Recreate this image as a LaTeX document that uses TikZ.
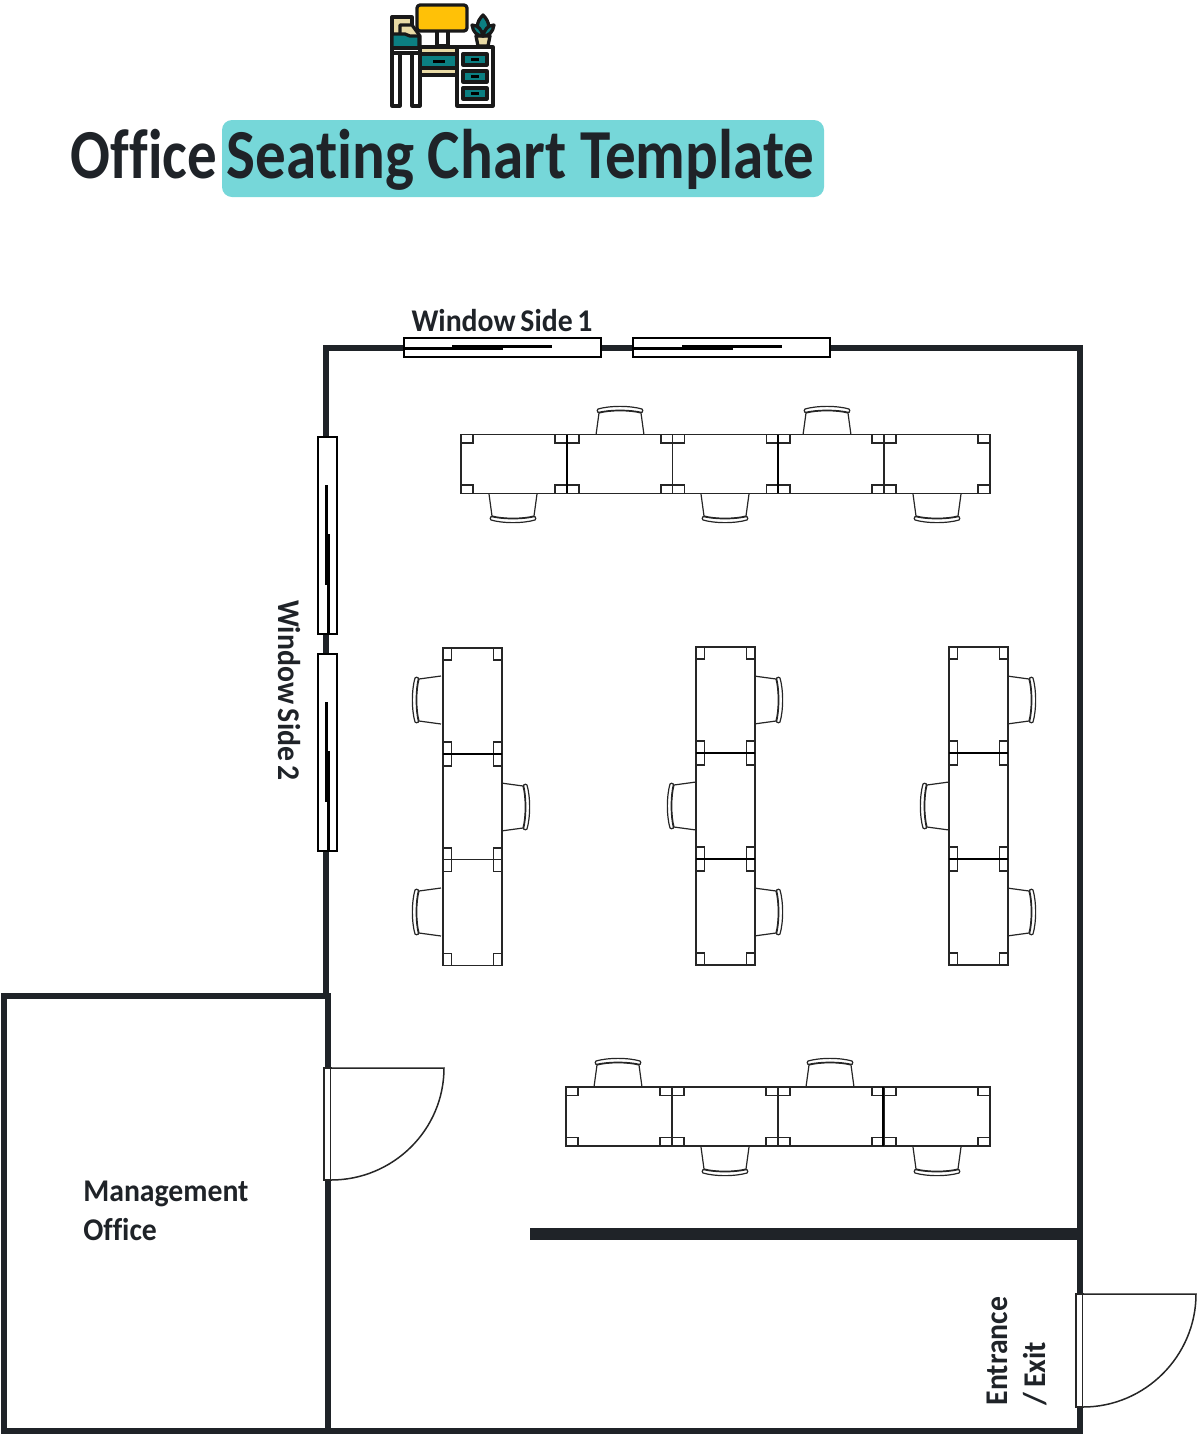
\documentclass[tikz,border=0pt]{standalone}
\usepackage{fontspec}
\setmainfont{Carlito}
\newfontface\titlefont[FakeStretch=0.87,Ligatures=NoCommon]{Carlito Bold}
\newfontface\officefont[FakeStretch=0.84,Ligatures=NoCommon]{Carlito Bold}
\newfontface\roomfont[FakeStretch=0.94,Ligatures=NoCommon,WordSpace=0.7]{Carlito Bold}
\definecolor{wall}{HTML}{1F2328}
\definecolor{band}{HTML}{76D7D9}
\definecolor{screen}{HTML}{FFC107}
\definecolor{deskteal}{HTML}{0B7F82}
\definecolor{cream}{HTML}{E9DBA6}
\tikzset{
  thin line/.style={line width=0.024cm, draw=black!85},
  desk/.pic={
    \draw[thin line, fill=white] (-53,-29.5) rectangle (53,29.5);
    \draw[thin line] (-53,-29.5) rectangle (-41,-21);
    \draw[thin line] (53,-29.5) rectangle (41,-21);
    \draw[thin line] (-53,29.5) rectangle (-41,21);
    \draw[thin line] (53,29.5) rectangle (41,21);
  },
  chair/.pic={
    \draw[thin line] (-24,0) -- (-21,-22) .. controls (-10,-25) and (10,-25) .. (21,-22) -- (24,0);
    \draw[thin line, line join=round] (-22,-22.5) .. controls (-23,-24) and (-23,-25) .. (-22,-26) .. controls (-10,-29.5) and (10,-29.5) .. (22,-26) .. controls (23,-25) and (23,-24) .. (22,-22.5) .. controls (10,-25.5) and (-10,-25.5) .. (-22,-22.5) -- cycle;
  },
}
\begin{document}
\begin{tikzpicture}[x=0.02cm,y=-0.02cm,
  wallline/.style={line width=0.13cm, draw=wall, line cap=rect},
  pane/.style={line width=0.04cm, draw=black, fill=white},
  sash/.style={line width=0.06cm, draw=black},
  seam/.style={line width=0.05cm, draw=black},
  roomtext/.style={text=wall, font=\roomfont\fontsize{18}{22}\selectfont, inner sep=0pt},
  titletext/.style={text=wall, font=\titlefont\fontsize{40}{48}\selectfont, inner sep=0pt, anchor=base},
  outline/.style={line width=0.065cm, draw=black!90, line join=round},
]
\useasboundingbox (0,0) rectangle (1200,1434);

% title
\draw[fill=band, draw=none, rounded corners=0.2cm] (222,120) rectangle (824,197);
\node[titletext, font=\officefont\fontsize{40}{48}\selectfont] (office) at (144,178) {Office};
\node[titletext] (seating) at (520.5,178) {Seating Chart Template};

% icon
\draw[outline, fill=cream] (392,17) rectangle (412,50);
\draw[outline, fill=cream] (400,25) -- (412,25) -- (420,36) -- (420,50) -- (400,50) -- cycle;
\draw[outline, fill=deskteal] (392,34) -- (405,34) -- (410,36) -- (419,36) -- (419,48) -- (392,48) -- cycle;
\draw[outline, fill=white] (392,48) rectangle (400,106);
\draw[outline, fill=white] (412,48) rectangle (420,106);
\draw[outline, fill=white] (392,48) rectangle (420,53);
\draw[outline, fill=cream] (420,47) rectangle (458,54);
\draw[outline, fill=deskteal] (420,54) rectangle (458,68);
\draw[outline, fill=cream] (420,68) rectangle (458,75);
\draw[line width=0.06cm, draw=black] (433,61) -- (445,61);
\draw[outline, fill=white] (437,30) rectangle (448,46);
\draw[outline, fill=screen, rounded corners=0.06cm] (417,5) rectangle (467,31);
\draw[outline, fill=cream] (476,36) -- (490,36) -- (488,46) -- (478,46) -- cycle;
\draw[outline, fill=deskteal] (483,36) .. controls (475,30) and (476,22) .. (483,15) .. controls (490,22) and (491,30) .. (483,36) -- cycle;
\draw[outline, fill=deskteal] (483,36) .. controls (477,36) and (473,32) .. (472,25) .. controls (478,25) and (482,30) .. (483,36) -- cycle;
\draw[outline, fill=deskteal] (483,36) .. controls (489,36) and (493,32) .. (494,25) .. controls (488,25) and (484,30) .. (483,36) -- cycle;
\draw[outline, fill=white] (457,47) rectangle (493,106);
\draw[outline, fill=deskteal] (463,54) rectangle (487,65);
\draw[outline, fill=deskteal] (463,71) rectangle (487,82);
\draw[outline, fill=deskteal] (463,88) rectangle (487,99);
\draw[line width=0.05cm, draw=black] (471,59.5) -- (479,59.5);
\draw[line width=0.05cm, draw=black] (471,76.5) -- (479,76.5);
\draw[line width=0.05cm, draw=black] (471,93.5) -- (479,93.5);

% walls
\draw[wallline] (326,995) -- (326,348) -- (1080,348) -- (1080,1431) -- (4,1431) -- (4,996) -- (328,996) -- (328,1431);
\draw[wallline, line width=0.24cm, line cap=butt] (530,1234) -- (1080,1234);

% windows
\draw[pane] (404,338) rectangle (601,357);
\draw[sash] (404,348) -- (503,348);
\draw[sash] (452,346) -- (552,346);
\draw[pane] (633,338) rectangle (830,357);
\draw[sash] (634,348) -- (733,348);
\draw[sash] (682,346) -- (782,346);
\draw[pane] (318,437) rectangle (337,634);
\draw[sash] (326,485) -- (326,585);
\draw[sash] (328.5,534) -- (328.5,634);
\draw[pane] (318,654) rectangle (337,851);
\draw[sash] (326,702) -- (326,802);
\draw[sash] (328.5,751) -- (328.5,851);

% doors
\draw[thin line, line width=0.03cm, fill=white] (324,1068) rectangle (331,1180);
\draw[thin line, line width=0.03cm, fill=white] (331,1068) -- (444,1068) .. controls (444,1130) and (393,1180) .. (331,1180);
\draw[thin line, line width=0.03cm, fill=white] (1076,1294) rectangle (1083,1407);
\draw[thin line, line width=0.03cm, fill=white] (1083,1294) -- (1196,1294) .. controls (1196,1356) and (1145,1407) .. (1083,1407);

% top row
\pic at (620,435) {chair};
\pic at (827,435) {chair};
\pic[rotate=180] at (513,494) {chair};
\pic[rotate=180] at (725,494) {chair};
\pic[rotate=180] at (937,494) {chair};
\pic at (514,464) {desk};
\pic at (620,464) {desk};
\pic at (725.5,464) {desk};
\pic at (831,464) {desk};
\pic at (937,464) {desk};
\draw[seam] (567,435) -- (567,493);
\draw[seam] (778,435) -- (778,493);

% bottom row
\pic at (618,1087) {chair};
\pic at (830,1087) {chair};
\pic[rotate=180] at (725,1147) {chair};
\pic[rotate=180] at (937,1147) {chair};
\pic at (619,1116.5) {desk};
\pic at (725,1116.5) {desk};
\pic at (831,1116.5) {desk};
\pic at (937,1116.5) {desk};
\draw[seam] (883,1087) -- (883,1146);

% left column
\pic[rotate=90] at (441,700) {chair};
\pic[rotate=-90] at (501,807) {chair};
\pic[rotate=90] at (441,912) {chair};
\pic[rotate=90] at (472.5,701) {desk};
\pic[rotate=90] at (472.5,807) {desk};
\pic[rotate=90] at (472.5,912.5) {desk};
\draw[seam] (443,754) -- (502,754);

% middle column
\pic[rotate=-90] at (754,700) {chair};
\pic[rotate=90] at (696,806) {chair};
\pic[rotate=-90] at (754,912) {chair};
\pic[rotate=90] at (725.5,700) {desk};
\pic[rotate=90] at (725.5,806) {desk};
\pic[rotate=90] at (725.5,912) {desk};
\draw[seam] (696,753) -- (755,753);
\draw[seam] (696,859) -- (755,859);

% right column
\pic[rotate=-90] at (1007,700) {chair};
\pic[rotate=90] at (949,806) {chair};
\pic[rotate=-90] at (1007,912) {chair};
\pic[rotate=90] at (978.5,700) {desk};
\pic[rotate=90] at (978.5,806) {desk};
\pic[rotate=90] at (978.5,912) {desk};
\draw[seam] (949,753) -- (1008,753);
\draw[seam] (949,859) -- (1008,859);

% labels
\node[roomtext, anchor=base] (side1) at (502,331) {Window Side 1};
\node[roomtext, rotate=-90] (side2) at (289,690.5) {Window Side 2};
\node[roomtext, anchor=west, align=left] (mgmt) at (83,1211) {Management\\Office};
\node[roomtext, rotate=90, align=left] (entrance) at (1017,1351) {Entrance\\/ Exit};

\end{tikzpicture}
\end{document}
